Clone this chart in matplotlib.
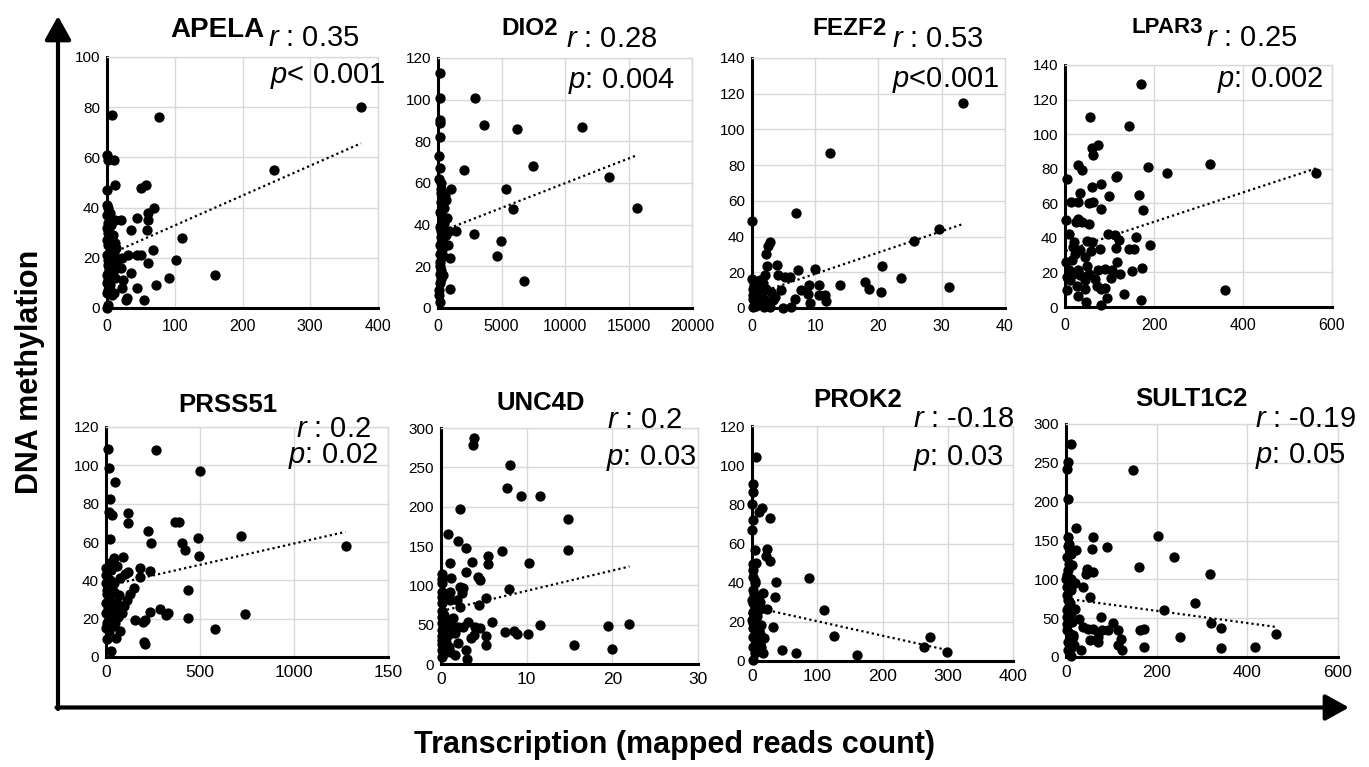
#!/usr/bin/env python3
import numpy as np
import matplotlib
matplotlib.use('Agg')
from matplotlib import pyplot as plt
from matplotlib.patches import FancyArrowPatch

plt.rcParams['font.family'] = ['Liberation Sans', 'DejaVu Sans']
plt.rcParams['mathtext.fontset'] = 'custom'
plt.rcParams['mathtext.rm'] = 'Liberation Sans'
plt.rcParams['mathtext.it'] = 'Liberation Sans:italic'

#-------Daten------------------------------------
apela_x = [375, 7, 77, 0, 11, 1, 247, 0, 12, 50, 58, 70, 0, 5, 45, 60, 60, 59, 36, 21, 12, 7,
           110, 68, 102, 44, 50, 31, 22, 20, 60, 159, 92, 72, 36, 24, 22, 45, 55, 28, 29, 12, 10,
           2, 0, 0, 2, 5, 3, 1, 4, 0, 6, 8, 10, 3, 0, 7, 2, 9, 12, 15, 5, 1, 0, 4, 0, 2,
           1, 3, 6, 0, 2, 8, 4, 1, 11, 5, 0, 3, 14, 7, 2]
apela_y = [80, 77, 76, 61, 59, 59, 55, 47, 49, 48, 49, 40, 41, 38, 36, 38, 35, 31, 31, 35, 35, 27,
           28, 23, 19, 21, 21, 21, 20, 16, 18, 13, 12, 9, 14, 11, 8, 8, 3, 3, 4, 12, 6,
           1, 0, 10, 14, 18, 22, 25, 28, 32, 33, 20, 15, 8, 6, 24, 30, 29, 26, 19, 12, 17, 21, 36, 37, 40,
           11, 16, 23, 27, 34, 17, 9, 19, 22, 26, 13, 30, 24, 5, 7]

dio2_x = [130, 130, 2950, 180, 130, 3600, 6200, 11300, 130, 80, 180, 2030, 7500, 13450, 5370, 5920,
          15660, 260, 260, 1050, 530, 260, 660, 260, 710, 260, 1400, 840, 2800, 4950, 4660, 6760,
          790, 920, 260, 130, 180, 130, 260, 390, 920, 130, 80, 130, 130, 200, 310, 130, 80,
          350, 450, 150, 600, 250, 100, 400, 300, 550, 200, 120, 480]
dio2_y = [112.8, 101, 101, 90, 89, 88, 86, 87, 82, 73, 67, 66, 68, 63, 57, 47.5,
          48, 60, 57, 57, 54, 51, 52, 45, 43, 40, 37, 37, 35.5, 32, 25, 13,
          30, 24, 34, 30, 26, 22, 18, 16, 9, 12, 6, 3, 46, 37, 33, 16.5, 8.5,
          28, 41, 20, 35, 55, 62, 25, 42, 30, 14, 39, 48]

fezf2_x = [33.3, 12.3, 7.0, 0, 29.6, 25.6, 2.9, 2.5, 2.2, 20.5, 23.6, 31.1, 17.8, 18.5, 20.4, 13.9,
           9.9, 7.2, 4.0, 2.3, 2.0, 4.1, 6.0, 5.2, 4.6, 7.8, 9.0, 8.9, 9.1, 10.6, 10.6, 11.6, 11.7,
           6.8, 6.1, 4.9, 3.3, 2.8, 0, 0.7, 1.2, 0.2, 0.9, 0.2, 0.2, 1.2, 2.2, 1.5, 2.5, 3.6, 0.7, 1.9,
           0.4, 1.0, 1.6, 0.1, 0.6, 2.0, 3.0, 1.3, 0.3, 0.8, 2.6, 1.8]
fezf2_y = [115, 86.7, 53, 48.7, 44.5, 37.4, 37, 34.8, 30, 23.6, 17, 11.8, 14.6, 10.9, 9, 13,
           22, 21.5, 24, 23.4, 18.3, 18.3, 17.4, 17.4, 10.3, 9.9, 13, 8, 3, 12.7, 7.1, 7.5, 3.7,
           4.9, 0.6, 0, 4.3, 0.6, 16, 13.7, 15.5, 10.9, 8, 5.2, 0.6, 2.4, 10.9, 6.2, 2.4, 6.2, 2.4, 0.5,
           3.5, 11, 8.5, 7, 1, 4.5, 9, 12.5, 13, 5.5, 1.5, 14]

lpar3_x = [171, 56, 143, 75, 60, 64, 326, 186, 30, 38, 230, 565, 4, 116, 115, 80, 60, 34, 167, 98,
           13, 30, 53, 64, 81, 176, 2, 30, 38, 25, 54, 10, 96, 112, 121, 160, 191, 144, 155, 114,
           79, 60, 49, 21, 19, 34, 58, 45, 23, 1.5, 15, 116, 49, 75, 89, 105, 124, 103, 173, 150,
           8, 19, 30, 4, 11, 34, 53, 68, 45, 26, 45, 71, 90, 81, 4, 359, 30, 47, 94, 133, 171, 80]
lpar3_y = [129, 110, 104.7, 94, 91.7, 88, 82.6, 81, 82.4, 79, 77.8, 77.8, 74.3, 76, 75, 71.4, 69.5, 66, 65, 64.3,
           61, 60.6, 59.9, 60.8, 56.6, 56.4, 50.6, 50.8, 49.2, 49.2, 48.3, 42, 42.5, 41.9, 39, 40.5, 35.7, 33.8, 33.4, 34.4,
           33.8, 37.7, 38, 37.7, 34.8, 32.8, 32.2, 29, 30.9, 26, 27, 26, 24, 21.6, 22.2, 21.6, 19.3, 17, 22.6, 20.9,
           21.2, 19.3, 21.2, 17.4, 15.8, 18.3, 19.3, 16.4, 15.4, 12, 10.6, 12, 11.2, 10.6, 10, 10, 6.2, 2.9, 5.2, 7.7, 4.2, 1.4]

prss51_x = [11, 265, 14, 501, 50, 23, 14, 32, 117, 117, 368, 386, 226, 716, 492, 23, 241, 403, 421, 1274,
            497, 90, 41, 0, 58, 235, 182, 182, 117, 99, 19, 28, 23, 0, 0, 41, 76, 147, 129, 111,
            94, 435, 740, 288, 320, 329, 435, 232, 580, 156, 196, 205, 200, 205, 85, 76, 55, 28, 5, 0,
            5, 23, 58, 14, 32, 50, 0, 14, 41, 67, 5,
            8, 20, 35, 3, 45, 10, 62, 26, 0, 17, 38, 70, 12]
prss51_y = [108.7, 107.9, 98.7, 97.1, 91.4, 82.4, 75.4, 74, 75.3, 70, 70.2, 70.2, 65.9, 63.1, 61.9, 61.4, 59.6, 59.3, 55.8, 58.1,
            52.7, 52.4, 51.5, 46.6, 47.5, 44.9, 46.3, 42, 44.6, 43.4, 48.9, 45.4, 40.2, 42.8, 38.5, 38.5, 41.1, 35.9, 32.9, 29.8,
            26.4, 35, 22.5, 25, 22, 23.2, 20.6, 23.4, 14.7, 19.1, 18.2, 19.4, 7.6, 6.9, 23.2, 13.4, 9.9, 2.9, 9.4, 28,
            17.7, 21.2, 28, 31.6, 24.6, 17.7, 22.9, 13.4, 34, 32.4, 35,
            25, 30, 20, 33, 26, 19, 21, 37, 15, 27, 16, 24, 36]

unc4d_x = [3.9, 3.7, 8.0, 7.7, 9.3, 11.5, 2.2, 14.8, 0.8, 2.0, 2.9, 14.8, 7.1, 5.5, 5.5, 3.6, 1.0, 10.3,
           2.9, 4.3, 4.6, 1.2, 0.1, 0.1, 0.1, 1.0, 2.2, 2.6, 1.9, 2.4, 7.9, 5.2, 2.2, 4.4, 0.1, 0.1, 1.0,
           0.1, 0.5, 0.9, 1.4, 1.6, 1.6, 2.0, 2.6, 3.2, 4.0, 4.6, 5.9, 5.2, 5.2, 7.5, 8.5, 8.9, 10.2, 11.5,
           15.5, 19.5, 20.0, 22.0, 0.1, 0.1, 0.1, 0.1, 0.1, 0.1, 1.0, 1.6, 2.0, 2.9, 3.0, 3.5, 3.8, 0.7, 0.9,
           0.1, 0.1, 0.1, 0.4, 0.3, 1.2, 0.6]
unc4d_y = [287, 279, 253, 224, 214, 213, 197, 184, 165, 156.6, 147, 145, 144, 137.5, 127, 130, 129, 128,
           116.7, 111, 107, 109, 115, 102.7, 92, 92, 98.4, 96.3, 81.5, 90, 95, 84.4, 73, 75, 77, 85.7, 81.5,
           60, 54, 47.5, 58, 47.5, 40, 47.5, 46.7, 54, 47.5, 45.4, 54, 36, 24, 41, 42, 38, 38, 49.6,
           24.2, 48.4, 19, 51, 52, 43, 35, 26, 18, 9, 15.7, 11.5, 26.3, 17.8, 6, 32.7, 37, 35, 22,
           108, 68, 30, 62, 14, 40, 28]

prok2_x = [5.6, 1.5, 1.5, 0, 10.7, 15.8, 27, 0, 4.1, 23.5, 22, 27, 6.6, 1.5, 87, 37, 36, 17, 111, 23.5,
           11.7, 32, 126, 273, 264, 299, 46, 67, 161, 14, 19, 14, 17, 1.5, 1.5, 1.5, 4, 1.5, 6.6, 1.5,
           9.2, 1.5, 6.6, 1.5, 4, 1.5, 6.6, 1.5, 4, 1.5, 11.7, 9.2, 0, 0,
           3, 8, 12, 5, 2, 10, 7, 4, 13, 1]
prok2_y = [104, 90.4, 86.5, 80, 76.3, 78, 72.9, 66.9, 56.7, 57.2, 53.8, 51.2, 50.2, 49.5, 42.2, 40.2, 32.5, 34.9, 26, 26.4,
           26.4, 17.2, 12.9, 12.1, 7, 4.4, 5.6, 4.3, 3.1, 18.4, 11.6, 7.3, 3.9, 72, 46.5, 43, 39.7, 36.3, 32.9, 29.4,
           29.4, 24.3, 21.8, 19.2, 15.8, 12.4, 10.7, 7.3, 3.9, 0.5, 14, 6.5, 21, 31,
           34, 23, 9, 27, 17, 16, 5, 41, 30, 25]

sult1c2_x = [11, 4, 3, 147, 5, 21, 202, 4, 5, 59, 91, 57, 21, 239, 12, 14, 162, 317, 46, 60,
             44, 4, 1.5, 11, 20, 38, 12, 54, 284, 5, 20, 216, 29, 77, 1.5, 7, 319, 343, 464, 251,
             342, 416, 173, 172, 163, 104, 115, 121, 115, 124, 93, 80, 70, 59, 49, 53, 71, 38, 34, 16,
             18, 12, 4, 5, 1.5, 3, 9, 1.5, 1.5, 7,
             2, 8, 14, 3, 10, 6, 1, 16, 4, 12]
sult1c2_y = [274, 250.5, 242, 241, 203, 166.6, 156, 143, 154, 154, 141, 139, 138, 129, 133, 118, 115.8, 107, 113, 109,
             107, 112, 105, 101, 95, 90, 86, 77.5, 70, 73, 62, 60, 49.5, 51.7, 60, 49.5, 44.3, 37.5, 30, 25.8,
             12, 12.5, 12.5, 36.6, 34.4, 44.3, 34.4, 23.7, 15, 8.6, 34.4, 34.4, 25.8, 36.6, 36.6, 22.4, 19.4, 38.7, 8.6, 25.8,
             15, 1.3, 8.6, 19.4, 34.4, 43, 69, 90, 129, 146,
             52, 30, 45, 80, 57, 120, 100, 28, 63, 11]

# Trendlinien: [Achsenabschnitt, Steigung]
trend_apela = [21.0, 0.119]
trend_dio2 = [36.2, 0.00237]
trend_fezf2 = [7.2, 1.194]
trend_lpar3 = [32.3, 0.0849]
trend_prss51 = [37.0, 0.0222]
trend_unc4d = [67.2, 2.58]
trend_prok2 = [27.7, -0.0739]
trend_sult1c2 = [75.2, -0.0787]

genes = ['APELA', 'DIO2', 'FEZF2', 'LPAR3', 'PRSS51', 'UNC4D', 'PROK2', 'SULT1C2']
r_labels = ['$r$ : 0.35', '$r$ : 0.28', '$r$ : 0.53', '$r$ : 0.25',
            '$r$ : 0.2', '$r$ : 0.2', '$r$ : -0.18', '$r$ : -0.19']
p_labels = ['$p$< 0.001', '$p$: 0.004', '$p$<0.001', '$p$: 0.002',
            '$p$: 0.02', '$p$: 0.03', '$p$: 0.03', '$p$: 0.05']
xdata = [apela_x, dio2_x, fezf2_x, lpar3_x, prss51_x, unc4d_x, prok2_x, sult1c2_x]
ydata = [apela_y, dio2_y, fezf2_y, lpar3_y, prss51_y, unc4d_y, prok2_y, sult1c2_y]
trends = [trend_apela, trend_dio2, trend_fezf2, trend_lpar3,
          trend_prss51, trend_unc4d, trend_prok2, trend_sult1c2]
x_ticks = [[0, 100, 200, 300, 400], [0, 5000, 10000, 15000, 20000], [0, 10, 20, 30, 40], [0, 200, 400, 600],
           [0, 500, 1000, 1500], [0, 10, 20, 30], [0, 100, 200, 300, 400], [0, 200, 400, 600]]
x_ticklabels = [None, None, None, None, ['0', '500', '1000', '150'], None, None, None]
y_ticks = [range(0, 101, 20), range(0, 121, 20), range(0, 141, 20), range(0, 141, 20),
           range(0, 121, 20), range(0, 301, 50), range(0, 121, 20), range(0, 301, 50)]
#--------------------

W, H = 1369, 767

# Pixelboxen der Panels: links, oben, rechts, unten
boxes = [(107, 57, 378, 308), (438, 58, 692, 308), (752, 58, 1005, 308), (1065, 65, 1332, 307),
         (106, 427, 388, 657), (441, 428, 698, 664), (752, 426, 1013, 661), (1066, 424, 1338, 657)]
# Titel: x-Mitte, Grundlinie, Groesse
title_pos = [(217, 37, 20), (530, 35, 17.5), (850, 35, 17.5), (1167, 33, 16),
             (228, 412, 18.5), (541, 410, 18.5), (858, 407, 18.5), (1191, 406, 18.5)]
# r / p: links, Grundlinie
r_pos = [(268, 46), (566, 47), (892, 47), (1206, 46),
         (296, 437), (607, 428), (913, 427), (1255, 427)]
p_pos = [(270, 83), (568, 88), (892, 87), (1217, 87),
         (288, 463), (606, 465), (913, 465), (1255, 463)]


def fx(px):
    return px / W


def fy(py):
    return 1 - py / H


fig = plt.figure(figsize=(W / 100, H / 100), dpi=100)

for i in range(8):
    l, t, r, b = boxes[i]
    ax = fig.add_axes([fx(l), fy(b), (r - l) / W, (b - t) / H])
    top_row = i < 4
    ax.scatter(xdata[i], ydata[i], s=55, color='black', linewidths=0, zorder=3, clip_on=False)

    a, m = trends[i]
    xs = np.linspace(min(xdata[i]), max(xdata[i]), 50)
    ax.plot(xs, a + m * xs, color='black', lw=1.6, linestyle=(0, (1, 1.4)), zorder=2)

    ax.set_xlim(x_ticks[i][0], x_ticks[i][-1])
    ax.set_ylim(y_ticks[i][0], y_ticks[i][-1])
    ax.set_xticks(x_ticks[i])
    if x_ticklabels[i] is not None:
        ax.set_xticklabels(x_ticklabels[i])
    ax.set_yticks(list(y_ticks[i]))
    ax.grid(True, color='#d9d9d9', lw=1)
    ax.set_axisbelow(True)
    for s in ['top', 'right']:
        ax.spines[s].set_color('#d9d9d9')
        ax.spines[s].set_linewidth(1)
    for s in ['left', 'bottom']:
        ax.spines[s].set_color('black')
        ax.spines[s].set_linewidth(2.2)
    ax.tick_params(axis='y', length=0, pad=5, labelsize=11)
    ax.tick_params(axis='x', length=0, pad=8 if top_row else 6, labelsize=11.5 if top_row else 12.5)

    tx, ty, ts = title_pos[i]
    fig.text(fx(tx), fy(ty), genes[i], ha='center', va='baseline', fontsize=ts, fontweight='bold')
    fig.text(fx(r_pos[i][0]), fy(r_pos[i][1]), r_labels[i], ha='left', va='baseline', fontsize=21)
    fig.text(fx(p_pos[i][0]), fy(p_pos[i][1]), p_labels[i], ha='left', va='baseline', fontsize=21)

# grosse Achsen mit Pfeilen
arr_v = FancyArrowPatch((fx(58), fy(709)), (fx(58), fy(16)), transform=fig.transFigure,
                        arrowstyle='-|>,head_length=0.45,head_width=0.25', mutation_scale=32,
                        lw=3, color='black', shrinkA=0, shrinkB=0)
arr_h = FancyArrowPatch((fx(56.5), fy(707.5)), (fx(1349), fy(707.5)), transform=fig.transFigure,
                        arrowstyle='-|>,head_length=0.45,head_width=0.25', mutation_scale=32,
                        lw=3, color='black', shrinkA=0, shrinkB=0)
fig.add_artist(arr_v)
fig.add_artist(arr_h)

fig.text(fx(30), fy(372), 'DNA methylation', rotation=90, ha='center', va='center',
         fontsize=22, fontweight='bold')
fig.text(fx(675), fy(745), 'Transcription (mapped reads count)', ha='center', va='center',
         fontsize=22, fontweight='bold')

fig.savefig('out.png', dpi=100)
